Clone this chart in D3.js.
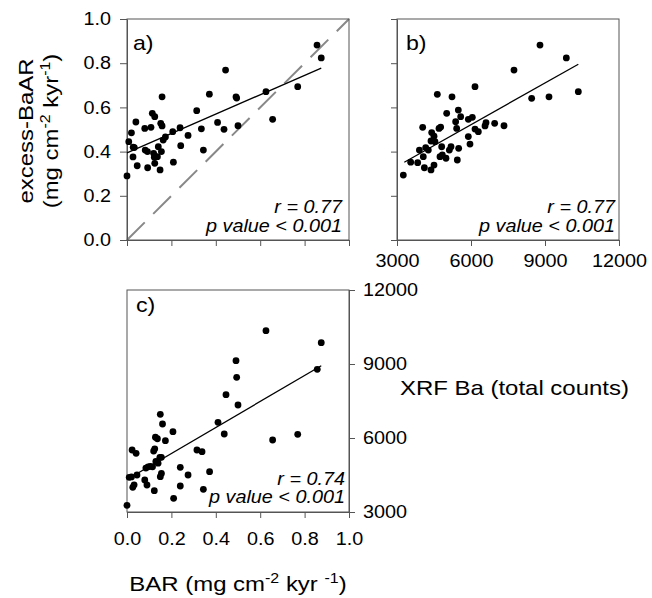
<!DOCTYPE html>
<html><head><meta charset="utf-8">
<script src="https://cdn.jsdelivr.net/npm/d3@7"></script>
<style>
body{margin:0;background:#fff}
text{font-family:"Liberation Sans",Arial,sans-serif;fill:#000}
</style></head>
<body><svg id="chart" width="652" height="598"></svg>
<script>
// ---- data ----
// panel a: BAR (x) vs excess-BaAR (y)
const barA  = [0.0,0.008,0.02,0.027,0.033,0.028,0.04,0.046,0.08,0.082,0.092,0.093,0.108,0.114,0.125,0.12,0.123,0.125,0.137,0.141,0.149,0.152,0.158,0.155,0.158,0.163,0.173,0.206,0.209,0.239,0.242,0.275,0.314,0.335,0.344,0.371,0.408,0.437,0.444,0.491,0.494,0.5,0.626,0.656,0.769,0.856,0.875];
const baarA = [0.29,0.445,0.485,0.376,0.418,0.42,0.534,0.336,0.505,0.407,0.40,0.327,0.51,0.573,0.558,0.392,0.375,0.347,0.377,0.422,0.317,0.528,0.648,0.40,0.516,0.452,0.466,0.49,0.352,0.508,0.427,0.473,0.585,0.503,0.407,0.66,0.532,0.501,0.769,0.648,0.642,0.517,0.671,0.546,0.694,0.882,0.824];
// panel b: XRF Ba (x) vs excess-BaAR (y)
const xrfB  = [3256,3555,3838,3908,4066,4041,4110,4164,4270,4378,4500,4378,4407,4500,4540,4635,4703,4770,4743,4811,4838,4986,5014,5122,5189,5230,5378,5419,5445,5500,5486,5581,5892,5959,5892,6054,6162,6162,6297,6568,6608,6959,7338,7743,8459,8797,9162,9865,10351];
const baarB = [0.294,0.352,0.35,0.407,0.377,0.51,0.327,0.418,0.407,0.317,0.339,0.448,0.486,0.47,0.445,0.659,0.505,0.511,0.377,0.422,0.385,0.37,0.573,0.407,0.422,0.648,0.535,0.505,0.362,0.415,0.588,0.558,0.468,0.434,0.546,0.555,0.694,0.502,0.49,0.516,0.531,0.528,0.517,0.769,0.641,0.882,0.648,0.824,0.671];
// panel c: BAR (x) vs XRF Ba (y)
const barC  = [0.0,0.01,0.02,0.023,0.041,0.026,0.032,0.045,0.08,0.09,0.085,0.095,0.105,0.115,0.123,0.12,0.125,0.128,0.137,0.13,0.14,0.148,0.155,0.15,0.16,0.173,0.15,0.155,0.207,0.21,0.24,0.24,0.275,0.315,0.338,0.344,0.372,0.41,0.438,0.446,0.491,0.494,0.5,0.626,0.656,0.769,0.857,0.875];
const xrfC  = [3272,4407,4420,5514,5380,4000,4100,4500,4297,4095,4780,4830,4850,4830,3865,5470,5560,6030,5970,5050,4980,5216,5216,6960,6568,5892,4432,4560,6257,3554,4811,4054,4500,5514,5446,3919,4635,6636,6162,7757,9135,8459,7338,10351,5919,6149,8784,9865];
// fitted regression lines (end points)
const fitAx = [0.0, 0.875],  fitAy = [0.394, 0.778];
const fitBx = [3296, 10351], fitBy = [0.352, 0.795];
const fitCx = [0.0, 0.875],  fitCy = [4317, 8930];
const oneToOne = [0, 1];
// ticks
const baarTicks = [0, 0.2, 0.4, 0.6, 0.8, 1.0];
const barTicks  = [0, 0.2, 0.4, 0.6, 0.8, 1.0];
const xrfTicks  = [3000, 6000, 9000, 12000];
const stats = [["r = 0.77","p value < 0.001"],["r = 0.77","p value < 0.001"],["r = 0.74","p value < 0.001"]];
const panelLabels = ["a)","b)","c)"];

// ---- drawing ----
const svg = d3.select("#chart");
const AX = "#555";

const xA = d3.scaleLinear([0,1],[127,349]);
const yA = d3.scaleLinear([0,1],[240,19]);
const xB = d3.scaleLinear([3000,12000],[397,619]);
const yB = d3.scaleLinear([0,1],[240,19]);
const xC = d3.scaleLinear([0,1],[127,349]);
const yC = d3.scaleLinear([3000,12000],[512,290]);

function styleAxis(g, fs){
  g.select(".domain").attr("stroke", AX);
  g.selectAll(".tick line").attr("stroke", AX);
  g.selectAll(".tick text").attr("font-size", fs).attr("font-family",'"Liberation Sans",Arial,sans-serif').attr("fill","#000").classed("st",true);
}
function frame(x, y){
  const [x0,x1] = x.range(), [y0,y1] = y.range();
  svg.append("rect").attr("x",x0).attr("y",y1).attr("width",x1-x0).attr("height",y0-y1)
    .attr("fill","none").attr("stroke",AX).attr("stroke-width",1);
}
function dots(xs, ys, x, y){
  svg.append("g").selectAll("circle").data(xs).join("circle")
    .attr("cx",(d)=>x(d)).attr("cy",(d,i)=>y(ys[i])).attr("r",3.4).attr("fill","#000");
}
function fit(fx, fy, x, y){
  svg.append("line").attr("x1",x(fx[0])).attr("y1",y(fy[0])).attr("x2",x(fx[1])).attr("y2",y(fy[1]))
    .attr("stroke","#000").attr("stroke-width",1.3);
}
function statText(lines, xr, yb1, yb2){
  svg.append("text").attr("class","st").attr("x",xr).attr("y",yb1).attr("text-anchor","end")
    .attr("font-size",18).attr("font-style","italic").text(lines[0]);
  svg.append("text").attr("class","st").attr("x",xr).attr("y",yb2).attr("text-anchor","end")
    .attr("font-size",18).attr("font-style","italic").text(lines[1]);
}
function plabel(t, x, y){
  svg.append("text").attr("class","st").attr("x",x).attr("y",y).attr("font-size",21).text(t);
}
function supText(sel, parts){
  // parts: array of [string, isSup]
  parts.forEach(([s, sup], i) => {
    const prevSup = i>0 && parts[i-1][1];
    const ts = sel.append("tspan").text(s);
    if (sup) ts.attr("dy", -8).attr("font-size", 14);
    else if (prevSup) ts.attr("dy", 8);
  });
}

// Panel a
svg.append("line").attr("x1",xA(oneToOne[0])).attr("y1",yA(oneToOne[0])).attr("x2",xA(oneToOne[1])).attr("y2",yA(oneToOne[1]))
  .attr("stroke","#888").attr("stroke-width",2).attr("stroke-dasharray","25,12");
frame(xA,yA);
svg.append("g").attr("transform","translate(127,0)")
  .call(d3.axisLeft(yA).tickValues(baarTicks).tickSize(7).tickSizeOuter(0).tickPadding(9).tickFormat(d3.format(".1f")))
  .call(g=>styleAxis(g,18));
svg.append("g").attr("transform","translate(0,240)")
  .call(d3.axisBottom(xA).tickValues(barTicks).tickSize(6).tickSizeOuter(0).tickFormat(""))
  .call(g=>styleAxis(g,18));
dots(barA, baarA, xA, yA);
fit(fitAx, fitAy, xA, yA);
statText(stats[0], 342, 213, 232);
plabel(panelLabels[0], 133, 50);

// Panel b
frame(xB,yB);
svg.append("g").attr("transform","translate(397,0)")
  .call(d3.axisLeft(yB).tickValues(baarTicks).tickSize(6).tickSizeOuter(0).tickFormat(""))
  .call(g=>styleAxis(g,18));
svg.append("g").attr("transform","translate(0,240)")
  .call(d3.axisBottom(xB).tickValues(xrfTicks).tickSize(6).tickSizeOuter(0).tickPadding(8).tickFormat(d3.format("d")))
  .call(g=>styleAxis(g,18));
dots(xrfB, baarB, xB, yB);
fit(fitBx, fitBy, xB, yB);
statText(stats[1], 615, 213, 232);
plabel(panelLabels[1], 406, 50);

// Panel c
frame(xC,yC);
svg.append("g").attr("transform","translate(0,512)")
  .call(d3.axisBottom(xC).tickValues(barTicks).tickSize(6).tickSizeOuter(0).tickPadding(14).tickFormat(d3.format(".1f")))
  .call(g=>styleAxis(g,18));
svg.append("g").attr("transform","translate(349,0)")
  .call(d3.axisRight(yC).tickValues(xrfTicks).tickSize(6).tickSizeOuter(0).tickPadding(8).tickFormat(d3.format("d")))
  .call(g=>styleAxis(g,18));
dots(barC, xrfC, xC, yC);
fit(fitCx, fitCy, xC, yC);
statText(stats[2], 345, 485, 503);
plabel(panelLabels[2], 136, 312);

// Axis titles
const t1 = svg.append("text").attr("class","st tt").attr("x",238).attr("y",591).attr("text-anchor","middle").attr("font-size",21);
supText(t1, [["BAR (mg cm",false],["-2",true],[" kyr ",false],["-1",true],[")",false]]);

svg.append("text").attr("class","st tt").attr("x",400).attr("y",395).attr("font-size",21).text("XRF Ba (total counts)");

const yt = svg.append("g").attr("transform","translate(0,131) rotate(-90)");
yt.append("text").attr("class","st tt").attr("x",0).attr("y",33).attr("text-anchor","middle").attr("font-size",21).text("excess-BaAR");
const yt2 = yt.append("text").attr("class","st tt").attr("x",0).attr("y",58).attr("text-anchor","middle").attr("font-size",21);
supText(yt2, [["(mg cm",false],["-2",true],[" kyr",false],["-1",true],[")",false]]);

// horizontal stretch of text (the reference text is slightly wide)
svg.selectAll("text.st").each(function(){
  const k = this.classList.contains("tt") ? 1.14 : 1.1;
  const L = this.getComputedTextLength();
  this.setAttribute("textLength", (L*k).toFixed(1));
  this.setAttribute("lengthAdjust","spacingAndGlyphs");
});
</script></body></html>
